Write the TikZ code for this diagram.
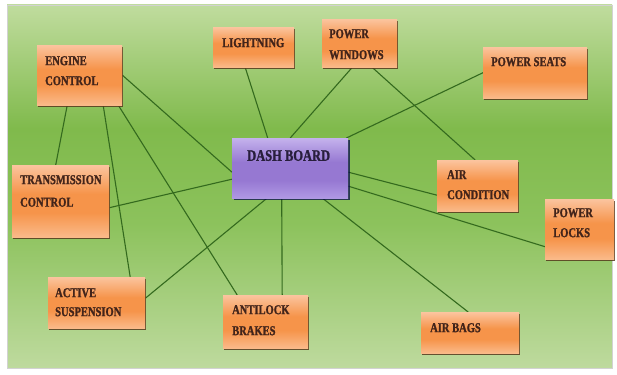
\documentclass[tikz,border=0pt]{standalone}
\usepackage{fontspec}
\newfontfamily\boxfont[FakeStretch=0.78, BoldFeatures={FakeBold=1.3}]{Liberation Serif}
\usetikzlibrary{shadows}
\definecolor{bgT}{RGB}{192,220,158}
\definecolor{bgM}{RGB}{128,186,76}
\definecolor{bgM2}{RGB}{140,194,92}
\definecolor{bgB}{RGB}{190,218,158}
\definecolor{orT}{RGB}{251,196,158}
\definecolor{orM}{RGB}{246,148,74}
\definecolor{orB}{RGB}{250,186,138}
\definecolor{puT}{RGB}{196,178,236}
\definecolor{puM}{RGB}{150,120,210}
\definecolor{puB}{RGB}{176,152,228}
\definecolor{linec}{RGB}{52,106,30}
\definecolor{txt}{RGB}{66,36,26}
\definecolor{dtxt}{RGB}{40,30,60}
\pgfdeclareverticalshading{bgshade}{100bp}{color(0bp)=(bgB); color(25bp)=(bgB); color(45bp)=(bgM2); color(58bp)=(bgM); color(75bp)=(bgT); color(100bp)=(bgT)}
\pgfdeclareverticalshading{orshade}{100bp}{color(0bp)=(orB); color(25bp)=(orB); color(42bp)=(orM); color(55bp)=(orM); color(75bp)=(orT); color(100bp)=(orT)}
\pgfdeclareverticalshading{pushade}{100bp}{color(0bp)=(puB); color(25bp)=(puB); color(40bp)=(puM); color(55bp)=(puM); color(75bp)=(puT); color(100bp)=(puT)}
\pgfdeclarelayer{bglayer}
\pgfdeclarelayer{linelayer}
\pgfsetlayers{bglayer,linelayer,main}
\tikzset{
  orangebox/.style={rectangle, shading=orshade, draw=none, anchor=north west, inner sep=0pt,
    drop shadow={shadow xshift=1.2pt, shadow yshift=-1.8pt, fill=black!55!brown, opacity=0.85}},
  purplebox/.style={rectangle, shading=pushade, draw=none, anchor=north west, inner sep=0pt,
    drop shadow={shadow xshift=1.5pt, shadow yshift=-2pt, fill=black!70!blue, opacity=0.7}},
  lbl/.style={anchor=north west, inner sep=0pt, align=left, text=txt,
    font=\boxfont\bfseries\fontsize{13.5}{20}\selectfont},
  conn/.style={draw=linec, line width=1.1pt}
}
\begin{document}
\begin{tikzpicture}[x=1pt,y=-1pt]
\useasboundingbox (0,0) rectangle (617,374);
\begin{pgfonlayer}{bglayer}
  \path[shading=bgshade, draw=gray!35, line width=0.8pt] (7,5) rectangle (612,368);
\end{pgfonlayer}

\node[orangebox, minimum width=85pt, minimum height=60pt,
  label={[lbl, xshift=8pt, yshift=-11pt]north west:ENGINE\\CONTROL}] (engine) at (37,45) {};
\node[orangebox, minimum width=81pt, minimum height=40pt,
  label={[lbl, xshift=9pt, yshift=-11pt]north west:LIGHTNING}] (light) at (213,27) {};
\node[orangebox, minimum width=75pt, minimum height=48pt,
  label={[lbl, xshift=7pt, yshift=-10pt, font=\boxfont\bfseries\fontsize{13.5}{21}\selectfont]north west:POWER\\WINDOWS}] (windows) at (322,19) {};
\node[orangebox, minimum width=104pt, minimum height=51pt,
  label={[lbl, xshift=8pt, yshift=-10pt]north west:POWER SEATS}] (seats) at (483,47) {};
\node[purplebox, minimum width=116pt, minimum height=60pt,
  label={[lbl, xshift=15pt, yshift=-12pt, text=dtxt, font=\boxfont\bfseries\fontsize{16}{20}\selectfont]north west:DASH BOARD}] (dash) at (232,138) {};
\node[orangebox, minimum width=81pt, minimum height=51pt,
  label={[lbl, xshift=10pt, yshift=-10pt]north west:AIR\\CONDITION}] (aircon) at (437,160) {};
\node[orangebox, minimum width=69pt, minimum height=60pt,
  label={[lbl, xshift=8pt, yshift=-9pt]north west:POWER\\LOCKS}] (locks) at (545,199) {};
\node[orangebox, minimum width=97pt, minimum height=72pt,
  label={[lbl, xshift=8pt, yshift=-10pt, font=\boxfont\bfseries\fontsize{13.5}{22.5}\selectfont]north west:TRANSMISSION\\CONTROL}] (trans) at (12,165) {};
\node[orangebox, minimum width=97pt, minimum height=51pt,
  label={[lbl, xshift=7pt, yshift=-11pt, font=\boxfont\bfseries\fontsize{13.5}{19}\selectfont]north west:ACTIVE\\SUSPENSION}] (active) at (48,277) {};
\node[orangebox, minimum width=85pt, minimum height=53pt,
  label={[lbl, xshift=9pt, yshift=-10pt, font=\boxfont\bfseries\fontsize{13.5}{21}\selectfont]north west:ANTILOCK\\BRAKES}] (antilock) at (223,295) {};
\node[orangebox, minimum width=98pt, minimum height=41pt,
  label={[lbl, xshift=9pt, yshift=-11pt]north west:AIR BAGS}] (airbags) at (421,312) {};

\begin{pgfonlayer}{linelayer}
  \draw[conn] (engine.east) -- ([yshift=-4pt]dash.west);
  \draw[conn] ([xshift=-12.5pt]engine.south) -- ([xshift=-5pt]trans.north);
  \draw[conn] ([xshift=23.5pt]engine.south) -- ([xshift=33.5pt]active.north);
  \draw[conn] ([xshift=-4pt]engine.south east) -- ([xshift=-28.5pt]antilock.north);
  \draw[conn] ([xshift=-8.5pt]light.south) -- ([xshift=-22.5pt]dash.north);
  \draw[conn] ([xshift=-7.5pt]windows.south) -- (dash.north);
  \draw[conn] ([xshift=12.5pt]windows.south) -- ([xshift=-2.5pt]aircon.north);
  \draw[conn] (seats.west) -- ([xshift=-2pt]dash.north east);
  \draw[conn] ([yshift=-4pt]dash.east) -- ([yshift=-9.5pt]aircon.west);
  \draw[conn] ([yshift=-18pt]dash.east) -- ([yshift=-17.5pt]locks.west);
  \draw[conn] ([xshift=32.5pt]dash.south) -- ([xshift=-2pt]airbags.north);
  \draw[conn] ([xshift=-8.5pt]dash.south) -- ([xshift=16.5pt]antilock.north);
  \draw[conn] ([xshift=-23.5pt]dash.south) -- ([yshift=4.5pt]active.east);
  \draw[conn] ([yshift=-6.5pt]trans.east) -- ([yshift=-11pt]dash.west);
\end{pgfonlayer}
\end{tikzpicture}
\end{document}
